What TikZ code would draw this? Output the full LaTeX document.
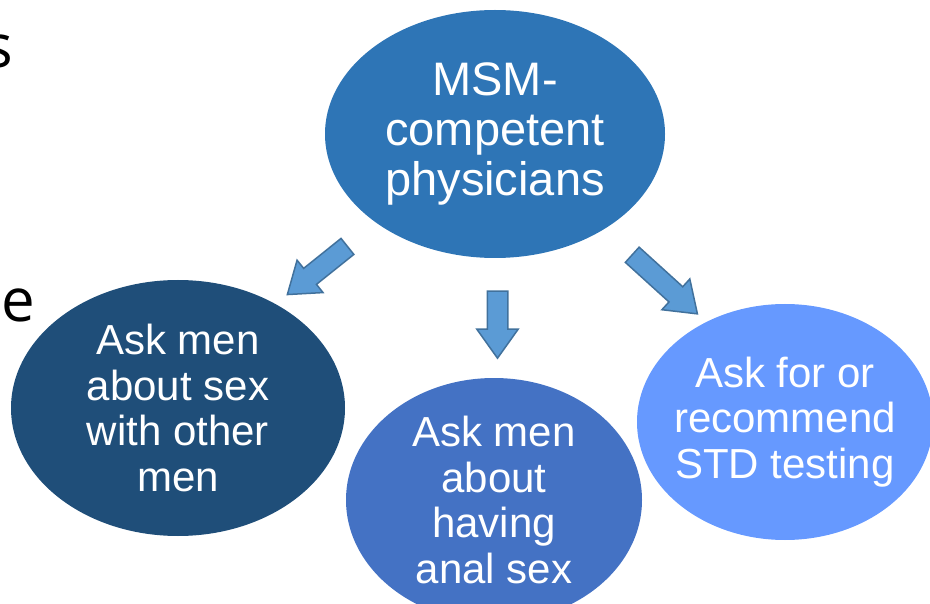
\documentclass[tikz,border=0pt]{standalone}
\usepackage{fontspec}
\setmainfont{Liberation Sans}
\newfontfamily\slidefont{Open Sans}
\usetikzlibrary{shapes, shapes.geometric, shapes.arrows, calc, positioning, arrows.meta}

\definecolor{topblue}{HTML}{2E75B6}
\definecolor{navyblue}{HTML}{1F4E79}
\definecolor{midblue}{HTML}{4472C4}
\definecolor{paleblue}{HTML}{6699FF}
\definecolor{arrowfill}{HTML}{5B9BD5}
\definecolor{arrowline}{HTML}{41719C}

\tikzset{
  bubble/.style={ellipse, inner sep=-25pt, text=white, align=center},
  bigtext/.style={font=\fontsize{47}{50}\selectfont},
  smalltext/.style={font=\fontsize{42}{45.5}\selectfont},
  flowarrow/.style={single arrow, draw=arrowline, fill=arrowfill, line width=1.5pt,
    inner xsep=0pt, inner ysep=9.5pt, minimum width=40pt,
    single arrow head extend=10.5pt, single arrow tip angle=71},
}

\begin{document}
\begin{tikzpicture}[x=1pt, y=1pt]
    \useasboundingbox (0,0) rectangle (930,-604);
    \clip (0,0) rectangle (930,-604);
    % cut-off words from the slide text
    \node[anchor=base east, inner sep=0pt, font=\slidefont\fontsize{60}{60}\selectfont] (cuts) at (13,-68) {s};
    \node[anchor=base west, inner sep=0pt, font=\slidefont\fontsize{60}{60}\selectfont] (cute) at (1.5,-322) {e};

    \node[bubble, smalltext, fill=navyblue, minimum width=334pt, minimum height=256pt] (sexmen) at (178,-408) {Ask men\\about sex\\with other\\men};
    \node[bubble, smalltext, fill=paleblue, minimum width=296pt, minimum height=236pt] (stdtest) at (785,-422) {Ask for or\\recommend\\STD testing};
    \node[bubble, smalltext, fill=midblue, minimum width=296pt, minimum height=244pt] (analsex) at (494,-500) {Ask men\\about\\having\\anal sex};
    \node[bubble, bigtext, fill=topblue, minimum width=340pt, minimum height=248pt] (msm) at (495,-134) {MSM-\\competent\\physicians};

    \node[flowarrow, minimum height=77pt, rotate=218.7] (arrleft) at ($(msm)!0.5!(sexmen)+(-13.5,5)$) {};
    \node[flowarrow, minimum height=67pt, rotate=270] (arrmid) at ($(msm)!0.5!(analsex)+(3,-0.5)$) {};
    \node[flowarrow, minimum height=88pt, rotate=-42.2] (arrright) at ($(msm)!0.5!(stdtest)+(19.5,-1.5)$) {};
\end{tikzpicture}
\end{document}
